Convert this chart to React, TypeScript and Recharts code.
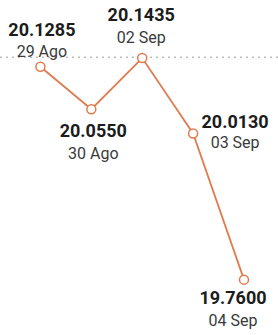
import React from 'react';
import { LineChart, Line, XAxis, YAxis, ReferenceLine } from 'recharts';

const dates = ['29 Ago', '30 Ago', '02 Sep', '03 Sep', '04 Sep'];
const rates = [20.1285, 20.055, 20.1435, 20.013, 19.76];
const refLevel = 20.145;

const data = dates.map((d, i) => ({ i, date: d, rate: rates[i] }));

// label offsets relative to each point: [dx, value dy, date dy]
const offsets = [
  [1.5, -31, -10],
  [2, 28, 50],
  [-1, -37, -15],
  [42, -5, 15],
  [-11, 24, 46],
];

const ORANGE = '#e07b4f';

function PointDot(props: any) {
  const { cx, cy, index, payload } = props;
  const [dx, vy, dy] = offsets[index];
  return (
    <g key={`dot-${index}`}>
      <circle cx={cx} cy={cy} r={4.5} fill="#fff" stroke={ORANGE} strokeWidth={1.5} />
      <text
        x={cx + dx}
        y={cy + vy}
        textAnchor="middle"
        fontFamily="Roboto, sans-serif"
        fontWeight="bold"
        fontSize={18}
        fill="#1c1c1c"
      >
        {payload.rate.toFixed(4)}
      </text>
      <text
        x={cx + dx}
        y={cy + dy}
        textAnchor="middle"
        fontFamily="Roboto, sans-serif"
        fontSize={16}
        fill="#3a3a3a"
      >
        {payload.date}
      </text>
    </g>
  );
}

export default function App() {
  return (
    <div style={{ position: 'absolute', left: 0, top: 0, background: '#fff' }}>
      <LineChart width={278} height={335} data={data} margin={{ top: 0, right: 0, bottom: 0, left: 0 }}>
        <XAxis type="number" dataKey="i" domain={[-0.794, 4.668]} hide />
        <YAxis type="number" domain={[19.6642, 20.244]} hide allowDataOverflow />
        <ReferenceLine y={refLevel} stroke="#9a9a9a" strokeDasharray="2 4" strokeWidth={1} />
        <Line
          dataKey="rate"
          stroke={ORANGE}
          strokeWidth={1.8}
          type="linear"
          dot={(p: any) => <PointDot {...p} />}
          activeDot={false}
          isAnimationActive={false}
        />
      </LineChart>
    </div>
  );
}
